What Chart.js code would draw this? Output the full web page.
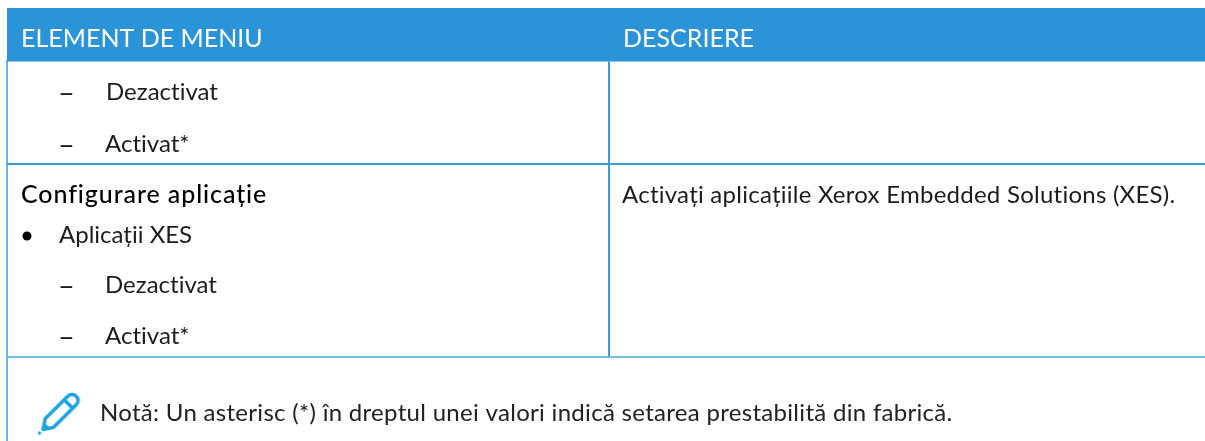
<!DOCTYPE html>
<html lang="ro">
<head>
<meta charset="utf-8">
<title>Element de meniu</title>
<style>
  html, body { margin: 0; padding: 0; background: #fff; }
  #tabel { display: block; width: 1205px; height: 441px; }
</style>
</head>
<body>
<canvas id="tabel" width="1205" height="441"></canvas>
<script src="https://cdn.jsdelivr.net/npm/chart.js@4/dist/chart.umd.min.js"></script>
<script>
const columnTitles = ['ELEMENT DE MENIU', 'DESCRIERE'];
const rowOneLines = ['Dezactivat', 'Activat*'];
const rowTwoTitle = 'Configurare aplicație';
const rowTwoItem = 'Aplicații XES';
const rowTwoOptions = ['Dezactivat', 'Activat*'];
const rowTwoDescription = 'Activați aplicațiile Xerox Embedded Solutions (XES).';
const noteText = 'Notă: Un asterisc (*) în dreptul unei valori indică setarea prestabilită din fabrică.';

const FONT = 'Lato, sans-serif';
const INK = '#1c1c1c';
const BLUE = '#2b93d7';

// x, baseline, text, size, weight, colour, letter spacing
const labels = [
  [21, 47, columnTitles[0], 25, 400, '#fff', 0.01],
  [623, 47, columnTitles[1], 25, 400, '#fff', 0.01],
  [58, 103, '–', 29, 400, INK, 0],
  [106, 100, rowOneLines[0], 24, 400, INK, 0.01],
  [58, 155, '–', 29, 400, INK, 0],
  [105, 152, rowOneLines[1], 24, 400, INK, 0.01],
  [21, 203, rowTwoTitle, 25, 500, '#000', 0.9],
  [622, 203, rowTwoDescription, 24, 400, INK, 0.25],
  [59, 243, rowTwoItem, 24, 400, INK, 0.01],
  [58, 296, '–', 29, 400, INK, 0],
  [105, 293, rowTwoOptions[0], 24, 400, INK, 0.01],
  [58, 347, '–', 29, 400, INK, 0],
  [105, 344, rowTwoOptions[1], 24, 400, INK, 0.01],
  [100, 421, noteText, 24, 400, '#222', 0.3]
];

const tableText = {
  id: 'tableText',
  afterDatasetsDraw(chart) {
    const { ctx, scales } = chart;
    ctx.save();
    ctx.textBaseline = 'alphabetic';
    labels.forEach(([x, y, text, size, weight, color, spacing]) => {
      ctx.font = `${weight} ${size}px ${FONT}`;
      ctx.letterSpacing = `${spacing}px`;
      ctx.fillStyle = color;
      ctx.fillText(text, scales.x.getPixelForValue(x), scales.y.getPixelForValue(y));
    });
    ctx.restore();
  }
};

// creionul de langa nota
const makePencil = () => {
  const c = document.createElement('canvas');
  c.width = 44;
  c.height = 44;
  const p = c.getContext('2d');
  p.translate(3, 41);
  p.rotate(-Math.PI / 4);
  p.strokeStyle = '#1ea3e2';
  p.fillStyle = '#1ea3e2';
  p.lineWidth = 3.5;
  p.lineJoin = 'round';
  p.beginPath();
  p.moveTo(5, 0);
  p.lineTo(14, -6);
  p.lineTo(46, -6);
  p.arc(46, 0, 6, -Math.PI / 2, Math.PI / 2);
  p.lineTo(14, 6);
  p.closePath();
  p.stroke();
  p.beginPath();
  p.moveTo(41, -6);
  p.lineTo(41, 6);
  p.stroke();
  p.beginPath();
  p.moveTo(5, 0);
  p.lineTo(11, -4);
  p.lineTo(11, 4);
  p.closePath();
  p.fill();
  p.beginPath();
  p.arc(0, 0, 1.6, 0, Math.PI * 2);
  p.fill();
  return c;
};

const rule = (points, color, width) => ({
  data: points,
  showLine: true,
  borderColor: color,
  borderWidth: width,
  pointRadius: 0,
  fill: false
});

new Chart(document.getElementById('tabel'), {
  type: 'scatter',
  data: {
    datasets: [
      {
        data: [{ x: 7, y: 8 }, { x: 1205, y: 8 }],
        showLine: true,
        borderWidth: 0,
        pointRadius: 0,
        backgroundColor: BLUE,
        fill: { value: 61 }
      },
      rule([{ x: 7, y: 61 }, { x: 1205, y: 61 }], '#63b4e8', 1.5),
      rule([{ x: 7, y: 164 }, { x: 1205, y: 164 }], '#3d9cdc', 2),
      rule([{ x: 7, y: 357 }, { x: 1205, y: 357 }], '#4ea6e0', 1.5),
      rule([{ x: 7, y: 60 }, { x: 7, y: 441 }], '#6ab7e8', 2),
      rule([{ x: 609, y: 8 }, { x: 609, y: 60 }], '#ffffff', 2),
      rule([{ x: 609, y: 61 }, { x: 609, y: 357 }], '#3d9cdc', 2),
      {
        data: [{ x: 27, y: 236 }],
        pointRadius: 4.5,
        pointBackgroundColor: '#000',
        pointBorderWidth: 0
      },
      {
        data: [{ x: 58.5, y: 414 }],
        pointStyle: makePencil(),
        pointRadius: 22
      }
    ]
  },
  options: {
    responsive: false,
    animation: false,
    events: [],
    layout: { padding: 0, autoPadding: false },
    plugins: { legend: { display: false }, tooltip: { enabled: false } },
    scales: {
      x: { type: 'linear', display: false, min: 0, max: 1205 },
      y: { type: 'linear', display: false, min: 0, max: 441, reverse: true }
    }
  },
  plugins: [tableText]
});
</script>
</body>
</html>
